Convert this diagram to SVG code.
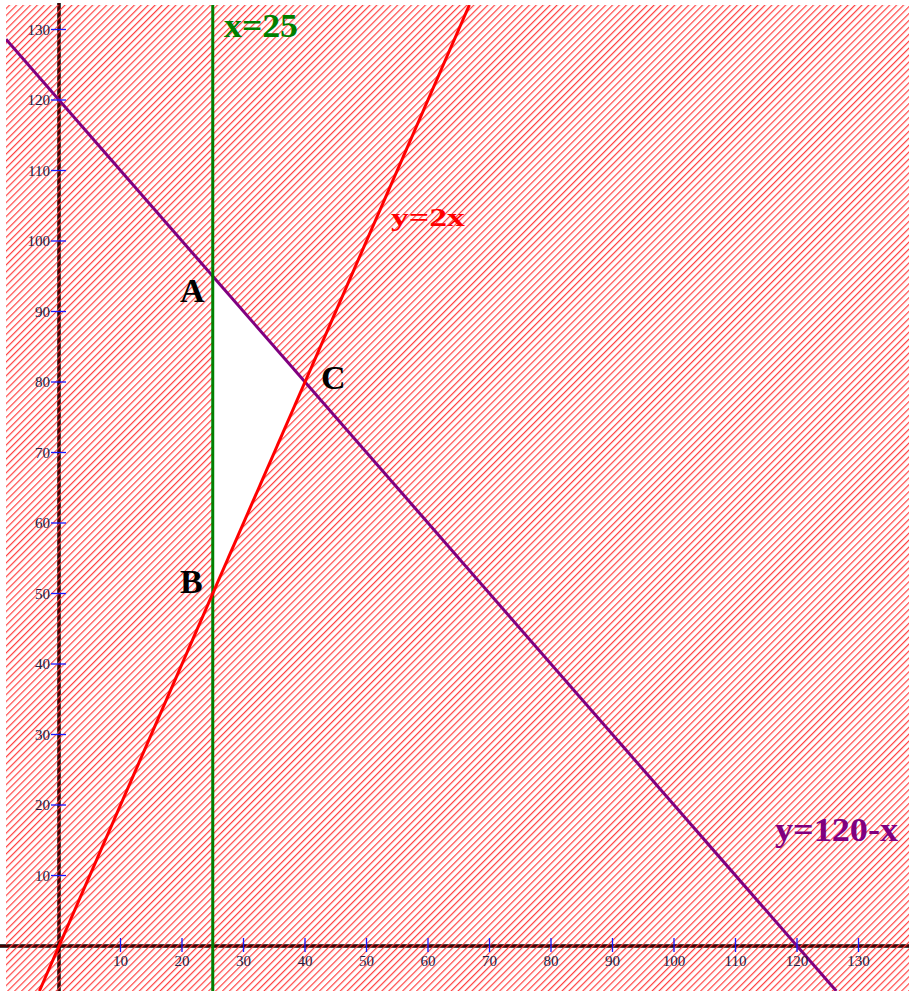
<svg xmlns="http://www.w3.org/2000/svg" width="909" height="991" viewBox="0 0 909 991">
  <style>
    .tick { stroke: #1a1aff; stroke-width: 1.3; }
    .tl { font-family: "Liberation Serif", "Times New Roman", serif; font-size: 15px; fill: #222244; }
    .tlx { text-anchor: middle; }
    .tly { text-anchor: end; }
    .big { font-family: "Liberation Serif", "Times New Roman", serif; font-weight: bold; font-size: 34px; }
    .pt { fill: #000000; }
  </style>
  <defs>
    <pattern id="hatch" patternUnits="userSpaceOnUse" width="4.9" height="20" patternTransform="rotate(45)">
      <rect x="0" y="0" width="1.2" height="20" fill="#ff4040"/>
    </pattern>
    <clipPath id="plot">
      <rect x="6" y="5" width="903" height="986"/>
    </clipPath>
  </defs>
  <rect x="0" y="0" width="909" height="991" fill="#ffffff"/>

  <g id="axes">
    <line x1="59" y1="3" x2="59" y2="991" stroke="#000000" stroke-width="3.5"/>
    <line x1="59" y1="3" x2="59" y2="991" stroke="#8b0000" stroke-width="1"/>
    <line x1="0" y1="946" x2="909" y2="946" stroke="#000000" stroke-width="3.5"/>
    <line x1="0" y1="946" x2="909" y2="946" stroke="#8b0000" stroke-width="1"/>
  </g>

  <g id="feasible-region-hatch">
    <path d="M6,5 H909 V991 H6 Z M212.75,276.25 L305,382 L212.75,593.5 Z" fill="url(#hatch)" fill-rule="evenodd"/>
  </g>

  <g id="connectors" clip-path="url(#plot)">
    <line id="line-y120-x" x1="6" y1="39.2" x2="836.3" y2="991" stroke="#800080" stroke-width="3"/>
    <line id="line-x25" x1="212.75" y1="5" x2="212.75" y2="991" stroke="#008000" stroke-width="3"/>
    <line id="line-y2x" x1="39.4" y1="991" x2="469.4" y2="5" stroke="#ff0000" stroke-width="3"/>
  </g>

  <g id="x-ticks">
    <line class="tick" x1="120.5" y1="938" x2="120.5" y2="952"/>
    <line class="tick" x1="182" y1="938" x2="182" y2="952"/>
    <line class="tick" x1="243.5" y1="938" x2="243.5" y2="952"/>
    <line class="tick" x1="305" y1="938" x2="305" y2="952"/>
    <line class="tick" x1="366.5" y1="938" x2="366.5" y2="952"/>
    <line class="tick" x1="428" y1="938" x2="428" y2="952"/>
    <line class="tick" x1="489.5" y1="938" x2="489.5" y2="952"/>
    <line class="tick" x1="551" y1="938" x2="551" y2="952"/>
    <line class="tick" x1="612.5" y1="938" x2="612.5" y2="952"/>
    <line class="tick" x1="674" y1="938" x2="674" y2="952"/>
    <line class="tick" x1="735.5" y1="938" x2="735.5" y2="952"/>
    <line class="tick" x1="797" y1="938" x2="797" y2="952"/>
    <line class="tick" x1="858.5" y1="938" x2="858.5" y2="952"/>
    <text class="tl tlx" x="120.5" y="966">10</text>
    <text class="tl tlx" x="182" y="966">20</text>
    <text class="tl tlx" x="243.5" y="966">30</text>
    <text class="tl tlx" x="305" y="966">40</text>
    <text class="tl tlx" x="366.5" y="966">50</text>
    <text class="tl tlx" x="428" y="966">60</text>
    <text class="tl tlx" x="489.5" y="966">70</text>
    <text class="tl tlx" x="551" y="966">80</text>
    <text class="tl tlx" x="612.5" y="966">90</text>
    <text class="tl tlx" x="674" y="966">100</text>
    <text class="tl tlx" x="735.5" y="966">110</text>
    <text class="tl tlx" x="797" y="966">120</text>
    <text class="tl tlx" x="858.5" y="966">130</text>
  </g>

  <g id="y-ticks">
    <line class="tick" x1="51" y1="875.5" x2="66" y2="875.5"/>
    <line class="tick" x1="51" y1="805" x2="66" y2="805"/>
    <line class="tick" x1="51" y1="734.5" x2="66" y2="734.5"/>
    <line class="tick" x1="51" y1="664" x2="66" y2="664"/>
    <line class="tick" x1="51" y1="593.5" x2="66" y2="593.5"/>
    <line class="tick" x1="51" y1="523" x2="66" y2="523"/>
    <line class="tick" x1="51" y1="452.5" x2="66" y2="452.5"/>
    <line class="tick" x1="51" y1="382" x2="66" y2="382"/>
    <line class="tick" x1="51" y1="311.5" x2="66" y2="311.5"/>
    <line class="tick" x1="51" y1="241" x2="66" y2="241"/>
    <line class="tick" x1="51" y1="170.5" x2="66" y2="170.5"/>
    <line class="tick" x1="51" y1="100" x2="66" y2="100"/>
    <line class="tick" x1="51" y1="29.5" x2="66" y2="29.5"/>
    <text class="tl tly" x="50" y="880.5">10</text>
    <text class="tl tly" x="50" y="810">20</text>
    <text class="tl tly" x="50" y="739.5">30</text>
    <text class="tl tly" x="50" y="669">40</text>
    <text class="tl tly" x="50" y="598.5">50</text>
    <text class="tl tly" x="50" y="528">60</text>
    <text class="tl tly" x="50" y="457.5">70</text>
    <text class="tl tly" x="50" y="387">80</text>
    <text class="tl tly" x="50" y="316.5">90</text>
    <text class="tl tly" x="50" y="246">100</text>
    <text class="tl tly" x="50" y="175.5">110</text>
    <text class="tl tly" x="50" y="105">120</text>
    <text class="tl tly" x="50" y="34.5">130</text>
  </g>

  <g id="line-labels">
    <text class="big" x="224" y="37" fill="#008000" textLength="74" lengthAdjust="spacingAndGlyphs">x=25</text>
    <text class="big" x="391" y="226" fill="#ff0000" style="font-size:26px" textLength="74" lengthAdjust="spacingAndGlyphs">y=2x</text>
    <text class="big" x="775" y="841" fill="#800080" textLength="123" lengthAdjust="spacingAndGlyphs">y=120-x</text>
  </g>

  <g id="point-A"><text class="big pt" x="180" y="302">A</text></g>
  <g id="point-B"><text class="big pt" x="180" y="593">B</text></g>
  <g id="point-C"><text class="big pt" x="321" y="389">C</text></g>
</svg>
